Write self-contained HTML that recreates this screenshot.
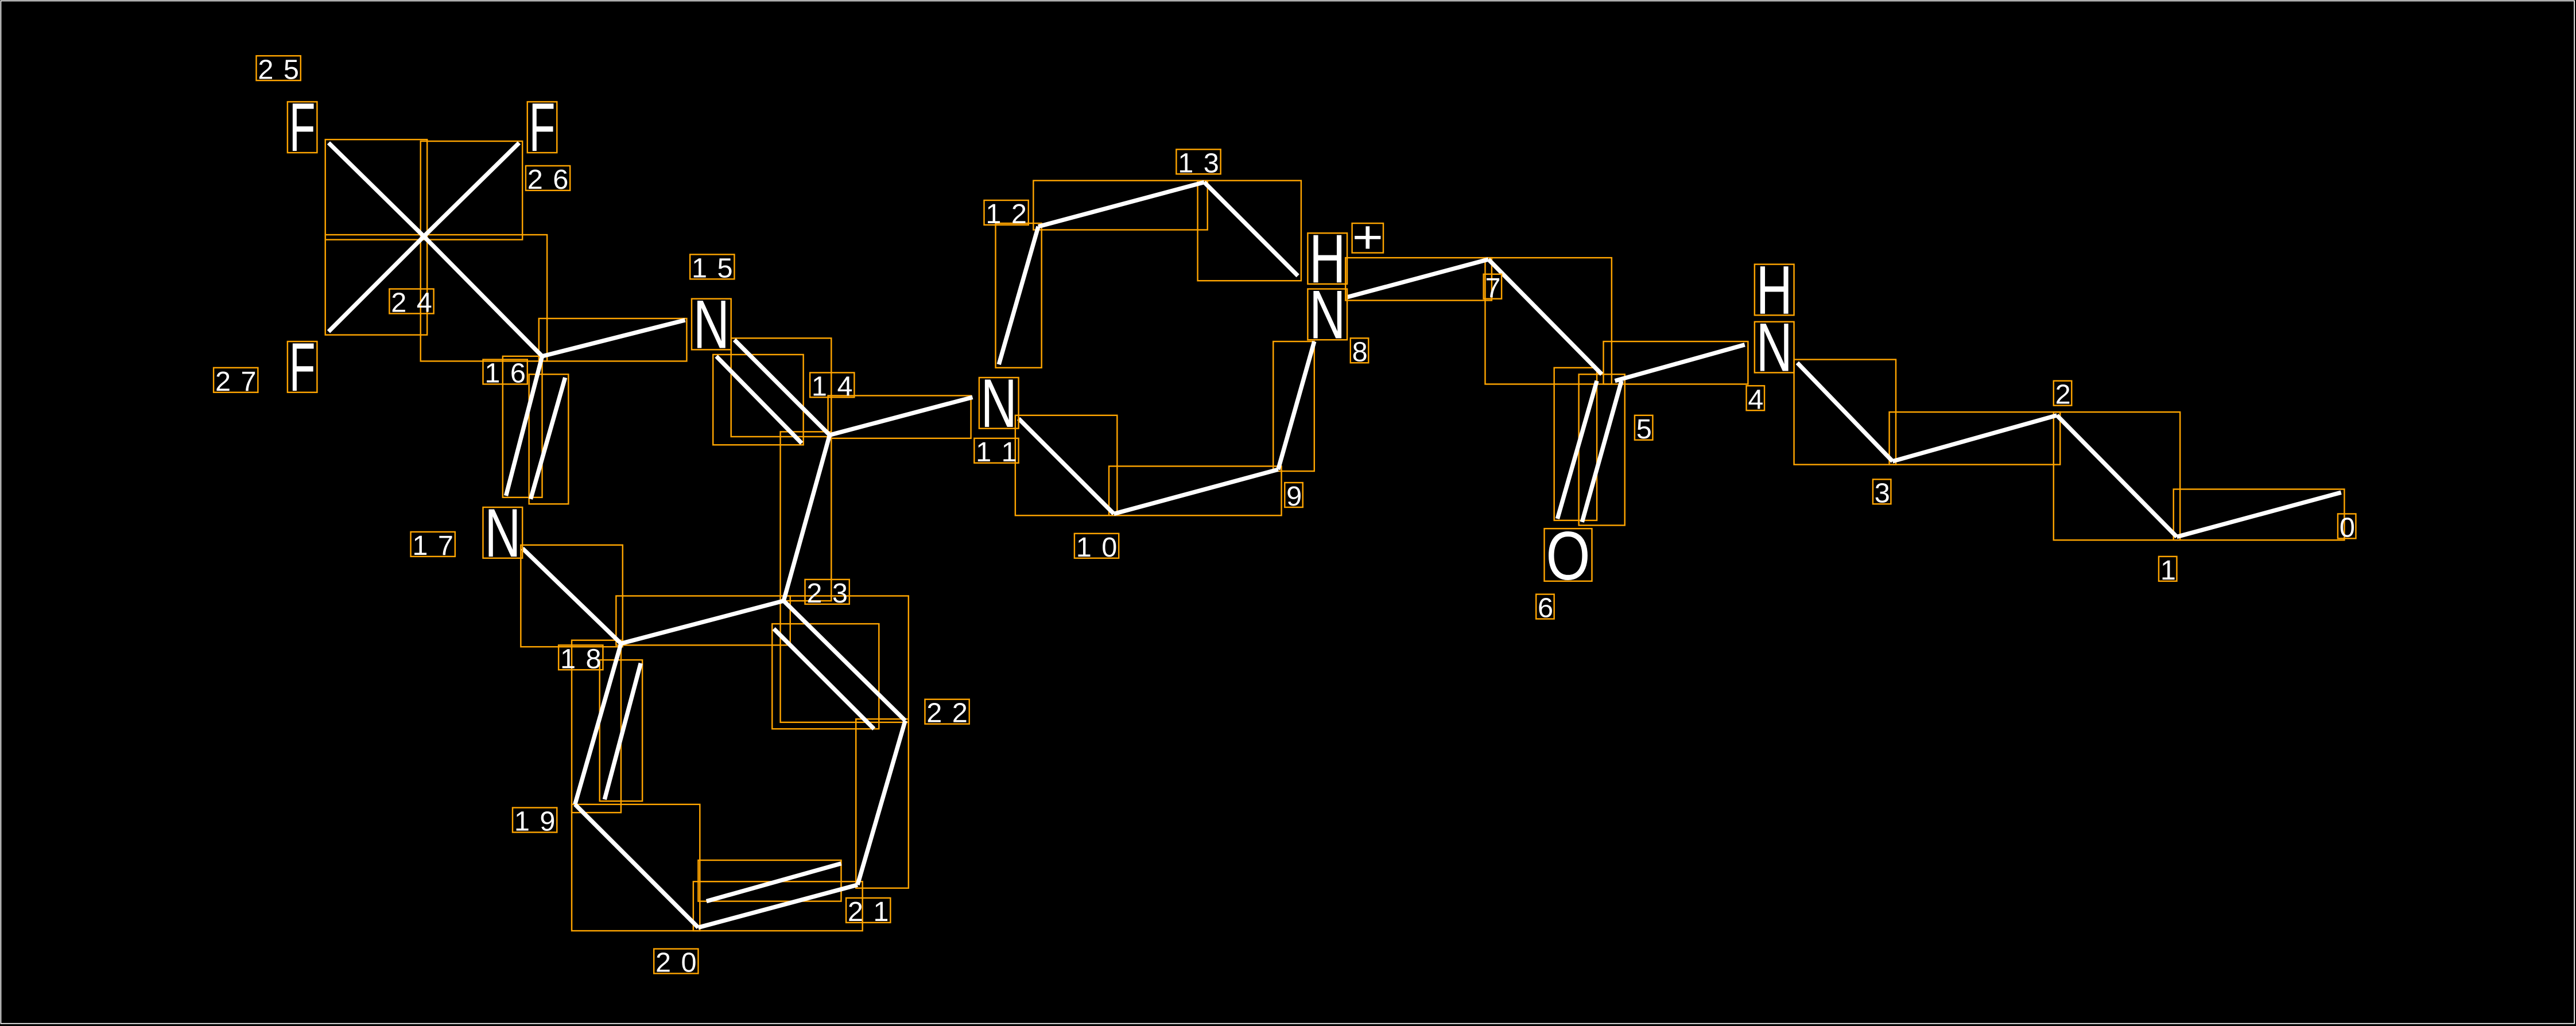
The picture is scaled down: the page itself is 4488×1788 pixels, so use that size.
<!DOCTYPE html>
<html><head><meta charset="utf-8"><style>
html,body{margin:0;padding:0;background:#000;width:4488px;height:1788px;overflow:hidden}
svg{display:block}
.b{stroke:#fff;stroke-width:2.6;stroke-linecap:butt}
.r{fill:none;stroke:#FFA500;stroke-width:0.85}
.n{font-family:"Liberation Sans","DejaVu Sans",sans-serif;font-size:17px;fill:#fff}
.a{font-family:"Liberation Sans","DejaVu Sans",sans-serif;font-size:42px;fill:#fff}
</style></head><body>
<svg width="4488" height="1788" viewBox="0 0 1568 625" preserveAspectRatio="none" xmlns="http://www.w3.org/2000/svg">
<rect x="0" y="0" width="1568" height="625" fill="#000"/>
<rect x="0.5" y="0.5" width="1566.5" height="623" fill="none" stroke="#fff" stroke-width="0.6"/>
<g class="r">
<rect x="1323" y="298" width="104" height="31"/>
<rect x="1250" y="251" width="77" height="78"/>
<rect x="1150" y="251" width="104" height="32"/>
<rect x="1092" y="219" width="62" height="64"/>
<rect x="976" y="208" width="88" height="26"/>
<rect x="946" y="224" width="26" height="93"/>
<rect x="961" y="228" width="28" height="92"/>
<rect x="904" y="157" width="77" height="77"/>
<rect x="819" y="157" width="89" height="26"/>
<rect x="729" y="110" width="63" height="61"/>
<rect x="629" y="110" width="106" height="30"/>
<rect x="606" y="136" width="28" height="88"/>
<rect x="618" y="253" width="62" height="61"/>
<rect x="675" y="284" width="105" height="30"/>
<rect x="775" y="208" width="25" height="79"/>
<rect x="504" y="241" width="87" height="26"/>
<rect x="445" y="206" width="61" height="60"/>
<rect x="434" y="216" width="55" height="55"/>
<rect x="475" y="263" width="31" height="103"/>
<rect x="328" y="194" width="90" height="26"/>
<rect x="256" y="143" width="77" height="77"/>
<rect x="306" y="217" width="24" height="86"/>
<rect x="322" y="228" width="24" height="79"/>
<rect x="317" y="332" width="62" height="62"/>
<rect x="375" y="363" width="106" height="30"/>
<rect x="348" y="390" width="30" height="105"/>
<rect x="365" y="402" width="26" height="86"/>
<rect x="348" y="490" width="78" height="77"/>
<rect x="422" y="537" width="103" height="30"/>
<rect x="425" y="524" width="87" height="25"/>
<rect x="521" y="438" width="32" height="103"/>
<rect x="475" y="363" width="78" height="77"/>
<rect x="470" y="380" width="65" height="64"/>
<rect x="198" y="85" width="62" height="61"/>
<rect x="256" y="86" width="62" height="60"/>
<rect x="198" y="143" width="62" height="61"/>
</g>
<g class="b">
<line x1="1425" y1="300" x2="1325" y2="327"/>
<line x1="1325" y1="327" x2="1252" y2="253"/>
<line x1="1252" y1="253" x2="1152" y2="281"/>
<line x1="1152" y1="281" x2="1094" y2="221"/>
<line x1="1062" y1="210" x2="983" y2="232"/>
<line x1="972" y1="232" x2="948" y2="316"/>
<line x1="987" y1="232" x2="963" y2="318"/>
<line x1="906" y1="158" x2="975" y2="228"/>
<line x1="820" y1="181" x2="906" y2="158"/>
<line x1="733" y1="111" x2="790" y2="168"/>
<line x1="632" y1="138" x2="733" y2="111"/>
<line x1="608" y1="222" x2="632" y2="138"/>
<line x1="620" y1="255" x2="678" y2="313"/>
<line x1="678" y1="313" x2="778" y2="286"/>
<line x1="778" y1="286" x2="800" y2="208"/>
<line x1="505" y1="265" x2="592" y2="242"/>
<line x1="447" y1="207" x2="505" y2="265"/>
<line x1="436" y1="217" x2="488" y2="270"/>
<line x1="505" y1="265" x2="477" y2="366"/>
<line x1="330" y1="217" x2="417" y2="195"/>
<line x1="258" y1="144" x2="330" y2="217"/>
<line x1="330" y1="217" x2="308" y2="302"/>
<line x1="344" y1="230" x2="323" y2="304"/>
<line x1="318" y1="334" x2="378" y2="392"/>
<line x1="378" y1="392" x2="477" y2="366"/>
<line x1="378" y1="392" x2="350" y2="490"/>
<line x1="390" y1="404" x2="368" y2="487"/>
<line x1="350" y1="490" x2="425" y2="565"/>
<line x1="425" y1="565" x2="522" y2="539"/>
<line x1="430" y1="549" x2="512" y2="526"/>
<line x1="522" y1="539" x2="551" y2="439"/>
<line x1="477" y1="366" x2="551" y2="439"/>
<line x1="471" y1="383" x2="532" y2="444"/>
<line x1="258" y1="144" x2="200" y2="87"/>
<line x1="258" y1="144" x2="316" y2="87"/>
<line x1="258" y1="144" x2="200" y2="202"/>
</g>
<g class="r">
<rect x="175" y="62" width="18" height="31"/>
<rect x="321" y="62" width="18" height="31"/>
<rect x="175" y="208" width="18" height="31"/>
<rect x="421" y="182" width="24" height="31"/>
<rect x="294" y="309" width="24" height="31"/>
<rect x="596" y="230" width="24" height="31"/>
<rect x="796" y="176" width="24" height="31"/>
<rect x="796" y="142" width="24" height="31"/>
<rect x="823" y="136" width="19" height="18"/>
<rect x="1068" y="196" width="24" height="31"/>
<rect x="1068" y="161" width="24" height="31"/>
<rect x="940" y="322" width="29" height="32"/>
</g>
<g class="a">
<text x="176" y="92" textLength="16" lengthAdjust="spacingAndGlyphs">F</text>
<text x="322" y="92" textLength="16" lengthAdjust="spacingAndGlyphs">F</text>
<text x="176" y="238" textLength="16" lengthAdjust="spacingAndGlyphs">F</text>
<text x="422" y="212" textLength="22" lengthAdjust="spacingAndGlyphs">N</text>
<text x="295" y="339" textLength="22" lengthAdjust="spacingAndGlyphs">N</text>
<text x="597" y="260" textLength="22" lengthAdjust="spacingAndGlyphs">N</text>
<text x="797" y="206" textLength="22" lengthAdjust="spacingAndGlyphs">N</text>
<text x="797" y="172" textLength="22" lengthAdjust="spacingAndGlyphs">H</text>
<text x="823" y="154" style="font-size:28px" textLength="19" lengthAdjust="spacingAndGlyphs">+</text>
<text x="1069" y="226" textLength="22" lengthAdjust="spacingAndGlyphs">N</text>
<text x="1069" y="191" textLength="22" lengthAdjust="spacingAndGlyphs">H</text>
<text x="941" y="353" textLength="27" lengthAdjust="spacingAndGlyphs">O</text>
</g>
<g class="n">
<text x="157" y="48" textLength="25" lengthAdjust="spacing">25</text>
<text x="321" y="115" textLength="25" lengthAdjust="spacing">26</text>
<text x="238" y="190" textLength="25" lengthAdjust="spacing">24</text>
<text x="131" y="238" textLength="25" lengthAdjust="spacing">27</text>
<text x="295" y="233" textLength="25" lengthAdjust="spacing">16</text>
<text x="421" y="169" textLength="25" lengthAdjust="spacing">15</text>
<text x="494" y="241" textLength="25" lengthAdjust="spacing">14</text>
<text x="251" y="338" textLength="25" lengthAdjust="spacing">17</text>
<text x="341" y="407" textLength="25" lengthAdjust="spacing">18</text>
<text x="313" y="506" textLength="25" lengthAdjust="spacing">19</text>
<text x="399" y="592" textLength="25" lengthAdjust="spacing">20</text>
<text x="516" y="561" textLength="25" lengthAdjust="spacing">21</text>
<text x="564" y="440" textLength="25" lengthAdjust="spacing">22</text>
<text x="491" y="367" textLength="25" lengthAdjust="spacing">23</text>
<text x="600" y="136" textLength="25" lengthAdjust="spacing">12</text>
<text x="717" y="105" textLength="25" lengthAdjust="spacing">13</text>
<text x="594" y="281" textLength="25" lengthAdjust="spacing">11</text>
<text x="655" y="339" textLength="25" lengthAdjust="spacing">10</text>
<text x="783" y="308">9</text>
<text x="823" y="220">8</text>
<text x="904" y="181">7</text>
<text x="936" y="376">6</text>
<text x="996" y="267">5</text>
<text x="1064" y="249">4</text>
<text x="1141" y="306">3</text>
<text x="1251" y="246">2</text>
<text x="1315" y="353">1</text>
<text x="1424" y="327">0</text>
</g>
<g class="r">
<rect x="156" y="34" width="27" height="15"/>
<rect x="320" y="101" width="27" height="15"/>
<rect x="237" y="176" width="27" height="15"/>
<rect x="130" y="224" width="27" height="15"/>
<rect x="294" y="219" width="27" height="15"/>
<rect x="420" y="155" width="27" height="15"/>
<rect x="493" y="227" width="27" height="15"/>
<rect x="250" y="324" width="27" height="15"/>
<rect x="340" y="393" width="27" height="15"/>
<rect x="312" y="492" width="27" height="15"/>
<rect x="398" y="578" width="27" height="15"/>
<rect x="515" y="547" width="27" height="15"/>
<rect x="563" y="426" width="27" height="15"/>
<rect x="490" y="353" width="27" height="15"/>
<rect x="599" y="122" width="27" height="15"/>
<rect x="716" y="91" width="27" height="15"/>
<rect x="593" y="267" width="27" height="15"/>
<rect x="654" y="325" width="27" height="15"/>
<rect x="782" y="294" width="11" height="15"/>
<rect x="822" y="206" width="11" height="15"/>
<rect x="903" y="167" width="11" height="15"/>
<rect x="935" y="362" width="11" height="15"/>
<rect x="995" y="253" width="11" height="15"/>
<rect x="1063" y="235" width="11" height="15"/>
<rect x="1140" y="292" width="11" height="15"/>
<rect x="1250" y="232" width="11" height="15"/>
<rect x="1314" y="339" width="11" height="15"/>
<rect x="1423" y="313" width="11" height="15"/>
</g>
</svg>
</body></html>
